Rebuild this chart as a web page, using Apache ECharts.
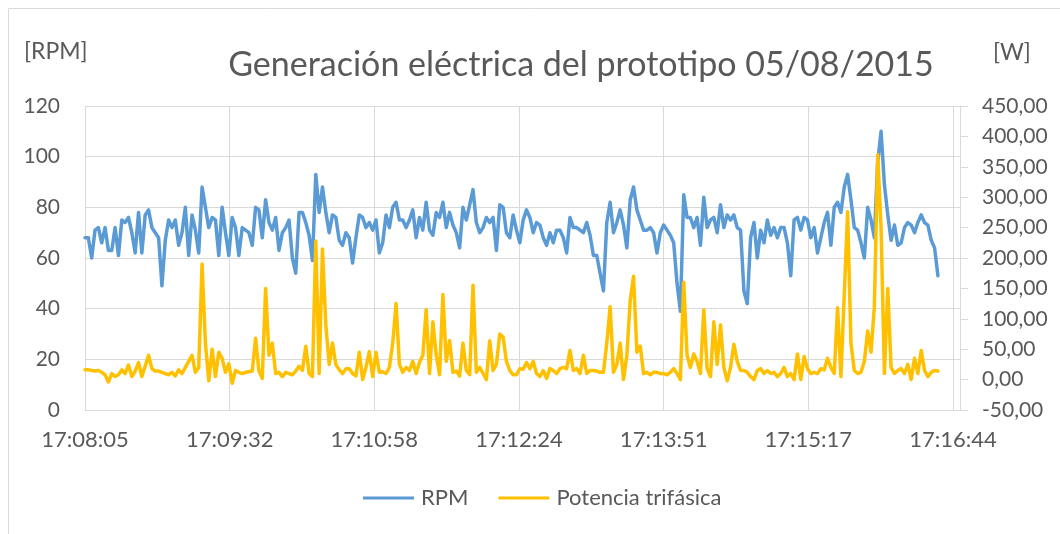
<!DOCTYPE html>
<html>
<head>
<meta charset="utf-8">
<title>Generación eléctrica del prototipo 05/08/2015</title>
<script src="https://cdn.jsdelivr.net/npm/echarts@6/dist/echarts.min.js"></script>
<style>
  html, body { margin: 0; padding: 0; background: #ffffff; }
  #chart { width: 1060px; height: 534px; }
</style>
</head>
<body>
<div id="chart"></div>
<script>
// Time-axis tick labels (one every 86.5 s from 17:08:05)
const timeLabels = ['17:08:05', '17:09:32', '17:10:58', '17:12:24', '17:13:51', '17:15:17', '17:16:44'];
const tickStepSeconds = 86.5;
const axisEndSeconds = 523.2;

// Readings taken every 2 s from 17:08:05
const sampleStep = 2;

// Rotor speed [RPM]
const rpm = [
  68, 68, 60, 71, 72, 66, 72, 63, 63, 72, 61, 75, 74, 76, 70, 62,
  78, 62, 77, 79, 72, 70, 68, 49, 67, 75, 72, 75, 65, 70, 80, 61,
  77, 71, 62, 88, 80, 72, 76, 75, 61, 80, 70, 61, 76, 72, 61, 72,
  71, 70, 65, 80, 79, 68, 83, 74, 71, 76, 63, 70, 72, 75, 60, 54,
  78, 78, 74, 69, 59, 93, 78, 88, 78, 70, 77, 76, 67, 65, 70, 68,
  58, 68, 77, 76, 72, 74, 71, 75, 62, 66, 77, 72, 80, 82, 75, 75,
  72, 75, 79, 68, 76, 71, 82, 71, 69, 78, 76, 82, 72, 78, 73, 70,
  64, 80, 75, 81, 87, 74, 70, 72, 76, 74, 76, 63, 81, 80, 70, 68,
  77, 71, 66, 75, 79, 76, 70, 74, 73, 68, 65, 70, 66, 71, 71, 68,
  62, 76, 72, 72, 71, 70, 74, 69, 61, 61, 54, 47, 74, 82, 70, 74,
  79, 73, 64, 83, 88, 79, 75, 71, 71, 72, 70, 62, 70, 73, 71, 69,
  66, 50, 39, 85, 76, 76, 72, 76, 65, 84, 72, 75, 76, 70, 81, 72,
  77, 75, 77, 72, 71, 47, 42, 68, 74, 60, 71, 66, 75, 69, 72, 68,
  72, 72, 66, 53, 75, 76, 71, 76, 75, 68, 72, 62, 68, 74, 78, 65,
  80, 82, 78, 88, 93, 83, 72, 71, 66, 60, 80, 75, 68, 98, 110, 89,
  77, 67, 73, 65, 66, 72, 74, 73, 70, 74, 77, 74, 73, 67, 64, 53
];

// Three-phase power [W]
const potencia = [
  16, 16, 15, 14, 15, 12, 8, -4, 10, 5, 8, 16, 10, 24, 5, 14,
  28, 5, 22, 40, 18, 14, 14, 12, 10, 8, 12, 6, 16, 10, 20, 30,
  40, 12, 20, 190, 60, -2, 50, 5, 45, 35, 12, 26, -6, 15, 12, 10,
  12, 13, 14, 68, 14, 2, 150, 40, 60, 10, 12, 5, 12, 10, 8, 14,
  22, 15, 55, 10, 5, 228, 10, 215, 90, 25, 60, 25, 16, 10, 18, 18,
  10, 6, 45, 0, 20, 46, 5, 45, 12, 13, 10, 20, 60, 125, 25, 12,
  20, 15, 30, 10, 28, 40, 115, 10, 95, 40, 8, 140, 30, 64, 12, 14,
  6, 60, 15, 8, 155, 12, 20, 10, 0, 64, 15, 25, 75, 70, 30, 15,
  8, 8, 18, 17, 28, 18, 30, 10, 5, 15, 2, 18, 15, 10, 18, 20,
  18, 48, 15, 18, 10, 40, 10, 15, 15, 14, 12, 12, 60, 120, 12, 25,
  60, 0, 40, 130, 170, 45, 55, 10, 12, 8, 12, 12, 10, 10, 8, 12,
  18, 10, 0, 160, 40, 20, 42, 30, 10, 115, 18, 5, 95, 25, 90, 20,
  -2, 20, 58, 30, 15, 15, 12, 5, 0, 15, 18, 10, 15, 10, 12, 5,
  10, 20, 5, 10, 0, 42, 0, 38, 18, 10, 12, 10, 18, 16, 35, 20,
  10, 118, 5, 140, 276, 60, 15, 10, 12, 30, 80, 45, 120, 370, 250, 10,
  150, 20, 10, 15, 18, 10, 25, 0, 35, 10, 48, 15, 5, 12, 15, 14
];

const FONT = 'Lato, "Open Sans", sans-serif';
const TEXT = '#595959';
const GRID = '#d9d9d9';

const toPairs = arr => arr.map((v, i) => [i * sampleStep, v]);

const chart = echarts.init(document.getElementById('chart'), null, { renderer: 'canvas' });

chart.setOption({
  backgroundColor: '#ffffff',
  animation: false,
  textStyle: { fontFamily: FONT, color: TEXT },
  title: {
    text: 'Generación eléctrica del prototipo 05/08/2015',
    left: 576,
    top: 43,
    textAlign: 'center',
    textStyle: { fontFamily: FONT, fontSize: 34, fontWeight: 'normal', color: TEXT }
  },
  graphic: [
    {
      type: 'rect',
      shape: { x: 8.5, y: 8.5, width: 1100, height: 560 },
      style: { fill: 'none', stroke: '#d9d9d9', lineWidth: 1 },
      silent: true
    },
    {
      type: 'text', left: 24, top: 40,
      style: { text: '[RPM]', fontFamily: FONT, fontSize: 23, fill: TEXT }
    },
    {
      type: 'text', left: 993, top: 41,
      style: { text: '[W]', fontFamily: FONT, fontSize: 23, fill: TEXT }
    }
  ],
  legend: {
    left: 358,
    top: 482,
    itemWidth: 51,
    itemHeight: 3,
    itemGap: 30,
    icon: 'rect',
    textStyle: { fontFamily: FONT, fontSize: 22, color: TEXT, padding: [0, 0, 0, 2] },
    data: ['RPM', 'Potencia trifásica']
  },
  grid: { left: 85, right: 100, top: 106, bottom: 124 },
  xAxis: {
    type: 'value',
    min: 0,
    max: axisEndSeconds,
    interval: tickStepSeconds,
    axisLine: { show: true, lineStyle: { color: GRID, width: 1 } },
    axisTick: { show: false },
    splitLine: { show: true, lineStyle: { color: GRID, width: 1 } },
    axisLabel: {
      margin: 19,
      fontFamily: FONT,
      fontSize: 22,
      color: TEXT,
      showMaxLabel: false,
      formatter: function (v) {
        const idx = Math.round(v / tickStepSeconds);
        if (Math.abs(v - idx * tickStepSeconds) < 0.01 && idx < timeLabels.length) {
          return timeLabels[idx];
        }
        return '';
      }
    }
  },
  yAxis: [
    {
      type: 'value',
      min: 0,
      max: 120,
      interval: 20,
      position: 'left',
      axisLine: { show: true, lineStyle: { color: GRID, width: 1 } },
      axisTick: { show: false },
      splitLine: { show: true, lineStyle: { color: GRID, width: 1 } },
      axisLabel: { margin: 25, fontFamily: FONT, fontSize: 21, color: TEXT }
    },
    {
      type: 'value',
      min: -50,
      max: 450,
      interval: 50,
      position: 'right',
      axisLine: { show: true, lineStyle: { color: GRID, width: 1 } },
      axisTick: { show: true, length: 8, inside: false, lineStyle: { color: GRID, width: 1 } },
      splitLine: { show: false },
      axisLabel: {
        margin: 22,
        fontFamily: FONT,
        fontSize: 21,
        color: TEXT,
        formatter: v => v.toFixed(2).replace('.', ',')
      }
    }
  ],
  series: [
    {
      name: 'RPM',
      type: 'line',
      yAxisIndex: 0,
      data: toPairs(rpm),
      showSymbol: false,
      symbol: 'none',
      lineStyle: { color: '#5B9BD5', width: 3.5, join: 'round', cap: 'round' },
      itemStyle: { color: '#5B9BD5' },
      z: 2
    },
    {
      name: 'Potencia trifásica',
      type: 'line',
      yAxisIndex: 1,
      data: toPairs(potencia),
      showSymbol: false,
      symbol: 'none',
      lineStyle: { color: '#FFC000', width: 3.5, join: 'round', cap: 'round' },
      itemStyle: { color: '#FFC000' },
      z: 3
    }
  ]
});
</script>
</body>
</html>
